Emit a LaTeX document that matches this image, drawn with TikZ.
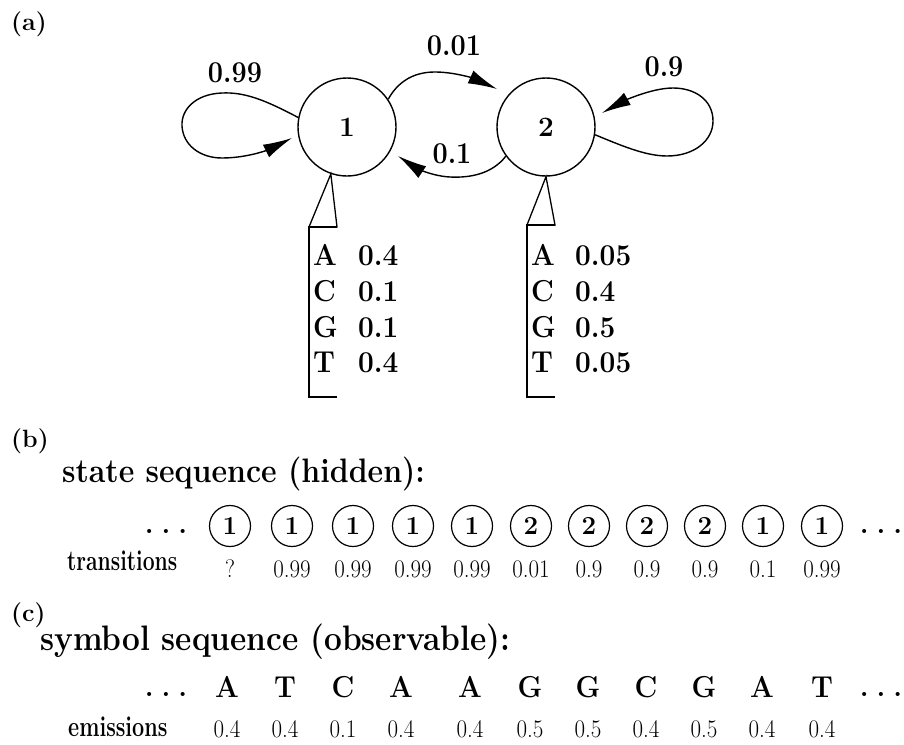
\documentclass[tikz,border=0pt]{standalone}
\usepackage{fontspec}
\usepackage{graphicx}
\usetikzlibrary{arrows.meta,calc}
\newcommand{\fsz}[1]{\fontsize{#1pt}{#1pt}\selectfont}
\newcommand{\tall}[2][1.12]{\scalebox{1}[#1]{#2}}
\newcommand{\spaceddots}{.\hspace{8pt}.\hspace{8pt}.}
\begin{document}
\begin{tikzpicture}[x=1pt,y=-1pt,
  hmmstate/.style={circle, draw, line width=1.4pt, minimum size=98pt, inner sep=0pt, font=\bfseries\fsz{28}},
  seqstate/.style={circle, draw, line width=1.2pt, minimum size=41pt, inner sep=0pt, font=\bfseries\fsz{26}},
  plabel/.style={inner sep=0pt, font=\bfseries\fsz{27}},
  edgeline/.style={line width=1.4pt, -{Latex[length=29pt,width=14pt]}},
  panel/.style={anchor=base west, inner sep=0pt, font=\bfseries\fsz{25}},
  heading/.style={anchor=base west, inner sep=0pt, font=\bfseries\fsz{#1}},
  rowlabel/.style={anchor=base west, inner sep=0pt, font=\bfseries\fsz{24}},
  smallprob/.style={anchor=base, inner sep=0pt, font=\fsz{23}},
  symb/.style={anchor=base, inner sep=0pt, font=\bfseries\fsz{28}},
  tabentry/.style={anchor=base west, inner sep=0pt, font=\bfseries\fsz{28}},
  dotsnode/.style={anchor=base, inner sep=0pt, font=\bfseries\fsz{28}},
  bracket/.style={line width=2.6pt},
  funnel/.style={line width=1.3pt, line join=miter}]
\useasboundingbox (0,0) rectangle (904,744);
\fill[white] (0,0) rectangle (904,744);

% panel letters
\node[panel] (pa) at (11,30) {(a)};
\node[panel] (pb) at (11,447) {(b)};
\node[panel] (pc) at (11,621) {(c)};

% (a) two-state model
\node[hmmstate] (s1) at (347,127) {1};
\node[hmmstate] (s2) at (546,127) {2};

\node[plabel] (l11) at (235,73) {\tall{0.99}};
\node[plabel] (l12) at (454,46) {\tall{0.01}};
\node[plabel] (l22) at (664,67) {\tall{0.9}};
\node[plabel] (l21) at (452,154) {\tall{0.1}};

% self loop on state 1
\draw[edgeline] (s1.169) .. controls (265,100) and (245,92) .. (222,93)
  .. controls (195,94) and (181,110) .. (182,126)
  .. controls (183,145) and (200,158) .. (222,158)
  .. controls (250,158) and (272,148) .. ($(s1)+(-55,11)$);
% 1 -> 2
\draw[edgeline] (s1.34) .. controls (400,78) and (418,72) .. (435,72)
  .. controls (455,72) and (475,79) .. ($(s2)+(-49,-38)$);
% 2 -> 1
\draw[edgeline] (s2.216) .. controls (492,174) and (470,178) .. (450,177)
  .. controls (430,176) and (413,166) .. ($(s1)+(51,29)$);
% self loop on state 2
\draw[edgeline] (s2.351) .. controls (620,145) and (645,156) .. (667,156)
  .. controls (695,156) and (713,140) .. (713,121)
  .. controls (713,100) and (695,88) .. (673,88)
  .. controls (650,88) and (620,103) .. ($(s2)+(56,-14)$);

% emission table of state 1
\draw[funnel] (s1.251) -- (309,227) -- (337,227) -- cycle;
\draw[bracket] (337,227) -- (309,227) -- (309,397) -- (337,397);
\foreach \ch/\pv/\yb [count=\i] in {A/0.4/265, C/0.1/301, G/0.1/337, T/0.4/372} {
  \node[tabentry] (ea\i) at (313,\yb) {\tall[1.08]{\ch}};
  \node[tabentry] (va\i) at (358,\yb) {\tall[1.08]{\pv}};
}
% emission table of state 2
\draw[funnel] (s2.270) -- (527,225) -- (555,225) -- cycle;
\draw[bracket] (555,225) -- (527,225) -- (527,397) -- (555,397);
\foreach \ch/\pv/\yb [count=\i] in {A/0.05/265, C/0.4/301, G/0.5/337, T/0.05/372} {
  \node[tabentry] (eb\i) at (531,\yb) {\tall[1.08]{\ch}};
  \node[tabentry] (vb\i) at (575,\yb) {\tall[1.08]{\pv}};
}

% (b) hidden state path
\node[heading=30.3] (hb) at (62,482) {\tall{state sequence (hidden):}};
\node[dotsnode] (dl1) at (166,533) {\spaceddots};
\node[dotsnode] (dr1) at (881,533) {\spaceddots};
\foreach \xp/\sv/\tv [count=\i] in {230/1/?, 292/1/0.99, 353/1/0.99, 413/1/0.99,
    472/1/0.99, 531/2/0.01, 589/2/0.9, 647/2/0.9, 705/2/0.9, 763/1/0.1, 822/1/0.99} {
  \node[seqstate] (q\i) at (\xp,526) {\sv};
  \node[smallprob] (t\i) at (\xp,577) {\tall[1.1]{\tv}};
}
\node[rowlabel] (rt) at (67,570) {\scalebox{0.88}[1.2]{transitions}};

% (c) observed symbols
\node[heading=31.6] (hc) at (40,650) {\tall{symbol sequence (observable):}};
\node[dotsnode] (dl2) at (166,696) {\spaceddots};
\node[dotsnode] (dr2) at (881,696) {\spaceddots};
\foreach \xp/\cv/\ev [count=\i] in {227/A/0.4, 285/T/0.4, 343/C/0.1, 401/A/0.4,
    470/A/0.4, 530/G/0.5, 588/G/0.5, 646/C/0.4, 704/G/0.5, 762/A/0.4, 822/T/0.4} {
  \node[symb] (y\i) at (\xp,697) {\tall[1.08]{\cv}};
  \node[smallprob] (e\i) at (\xp,737) {\tall[1.1]{\ev}};
}
\node[rowlabel] (re) at (68,736) {\scalebox{0.9}[1.2]{emissions}};
\end{tikzpicture}
\end{document}
